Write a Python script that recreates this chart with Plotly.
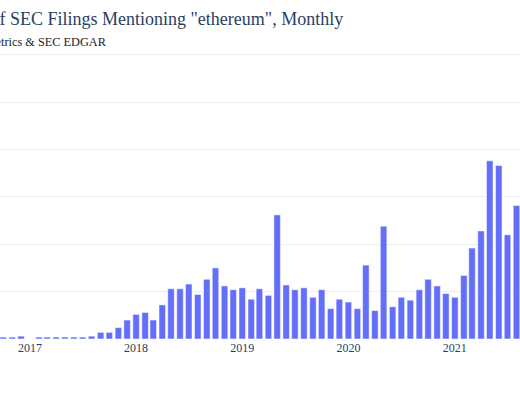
"""
SEC filings mentioning "ethereum" - monthly bar chart (cropped view).
"""

import pandas as pd
import plotly.graph_objects as go

# Monthly filing counts, Oct 2016 .. Aug 2021
months = pd.date_range("2016-10-01", "2021-08-01", freq="MS")
filings = [
    2, 2, 3,                                             # 2016 Oct-Dec
    0, 2, 2, 2, 2, 2, 2, 3, 7, 7, 12, 20,                # 2017
    26, 28, 20, 36, 53, 53, 58, 47, 63, 75, 56, 52,      # 2018
    54, 42, 53, 46, 131, 57, 52, 54, 44, 52, 32, 42,     # 2019
    39, 32, 78, 30, 119, 34, 44, 41, 52, 63, 56, 48,     # 2020
    44, 67, 96, 114, 188, 183, 110, 141,                 # 2021 Jan-Aug
]

title_text = 'Number of SEC Filings Mentioning "ethereum", Monthly'
subtitle_text = "Source: Coin Metrics & SEC EDGAR"

fig = go.Figure(go.Bar(x=months, y=filings, marker_color="#636efa"))

fig.update_layout(
    template="plotly_white",
    width=520,
    height=400,
    margin=dict(l=0, r=0, t=50, b=61),
    font_family="Liberation Serif",
    showlegend=False,
)

# title + source sit partly outside the visible area (cropped like the original)
fig.add_annotation(
    text=title_text, xref="paper", yref="paper", x=0.664, y=1.108,
    xanchor="right", yanchor="middle", showarrow=False,
    font=dict(size=18, color="#2a3f5f", family="Liberation Serif"),
)
fig.add_annotation(
    text=subtitle_text, xref="paper", yref="paper", x=0.21, y=1.028,
    xanchor="right", yanchor="middle", showarrow=False,
    font=dict(size=12.3, color="#222222", family="Liberation Serif"),
)

fig.update_xaxes(
    range=["2016-09-20", "2021-08-13"],
    tick0="2017-01-01", dtick="M12", tickformat="%Y",
    showgrid=False,
)
fig.update_yaxes(
    range=[0, 305], dtick=50, showticklabels=False,
    gridcolor="#EBF0F8", zeroline=False,
)

# page body margin off, so the chart starts at the window corner
fig.write_html(
    "out.html",
    config={"displayModeBar": False},
    post_script="document.body.style.margin='0';",
)
